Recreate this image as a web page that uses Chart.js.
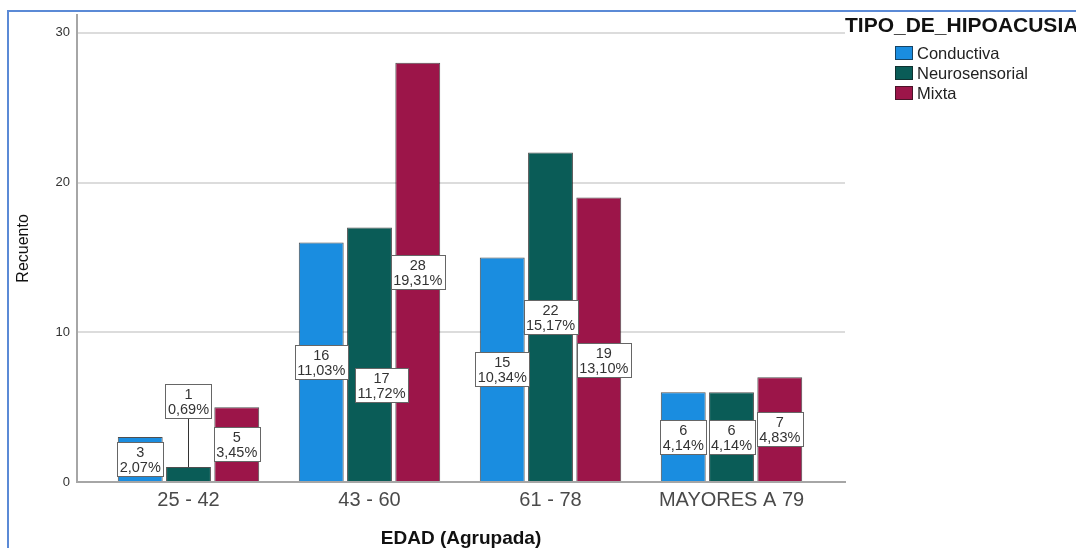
<!DOCTYPE html>
<html lang="es">
<head>
<meta charset="utf-8">
<title>Recuento por EDAD (Agrupada) y TIPO_DE_HIPOACUSIA</title>
<script src="https://cdn.jsdelivr.net/npm/chart.js@4.4.1/dist/chart.umd.min.js"></script>
<style>
  html, body { margin: 0; padding: 0; background: #fff; }
  #grafico { display: block; }
</style>
</head>
<body>
<canvas id="grafico" width="1076" height="548"></canvas>
<script>
// Recuento de hipoacusia por grupo de edad (barras agrupadas, estilo SPSS)

const EDADES = ["25 - 42", "43 - 60", "61 - 78", "MAYORES A 79"];
const TIPOS = ["Conductiva", "Neurosensorial", "Mixta"];
const CONDUCTIVA = [3, 16, 15, 6];
const NEUROSENSORIAL = [1, 17, 22, 6];
const MIXTA = [5, 28, 19, 7];
const Y_TICKS = [0, 10, 20, 30];

const COLORES = ["#1a8de0", "#0a5c57", "#9c1549"];
const FUENTE = "'Liberation Sans', Arial, sans-serif";

const series = [CONDUCTIVA, NEUROSENSORIAL, MIXTA];
const TOTAL = series.flat().reduce((a, b) => a + b, 0);

function pct(v) { return (v / TOTAL * 100).toFixed(2).replace(".", ",") + "%"; }

// etiquetas corridas a mano para que no se pisen con la vecina (dx, dy en px)
const AJUSTES = { "1-1": [12, 31], "2-2": [5, 21] };

// marco azul del visor
const marco = {
  id: "marco",
  beforeDraw(chart) {
    const ctx = chart.ctx;
    ctx.save();
    ctx.strokeStyle = "#5b8ad6";
    ctx.lineWidth = 2;
    ctx.beginPath();
    ctx.moveTo(8, chart.height);
    ctx.lineTo(8, 11);
    ctx.lineTo(chart.width, 11);
    ctx.stroke();
    ctx.restore();
  },
};

// caja con recuento y porcentaje sobre cada barra
const etiquetas = {
  id: "etiquetas",
  afterDatasetsDraw(chart) {
    const ctx = chart.ctx;
    ctx.save();
    ctx.font = "14.5px " + FUENTE;
    ctx.textAlign = "center";
    ctx.textBaseline = "middle";
    chart.data.datasets.forEach((ds, di) => {
      chart.getDatasetMeta(di).data.forEach((bar, i) => {
        const v = ds.data[i].y;
        const l1 = String(v), l2 = pct(v);
        const w = Math.round(Math.max(ctx.measureText(l1).width, ctx.measureText(l2).width) + 5);
        const h = 34;
        let cx = bar.x, cy = (bar.y + bar.base) / 2;
        let guia = false;
        if (bar.base - bar.y < h) { cy = bar.y - 49 - h / 2; guia = true; }
        const aj = AJUSTES[di + "-" + i];
        if (aj) { cx += aj[0]; cy += aj[1]; }
        const x0 = Math.round(cx - w / 2) + 0.5, y0 = Math.round(cy - h / 2) + 0.5;
        if (guia) {
          ctx.strokeStyle = "#333";
          ctx.lineWidth = 1;
          ctx.beginPath();
          ctx.moveTo(Math.round(cx) + 0.5, y0 + h);
          ctx.lineTo(Math.round(cx) + 0.5, bar.y);
          ctx.stroke();
        }
        ctx.fillStyle = "#fff";
        ctx.fillRect(x0, y0, w, h);
        ctx.strokeStyle = "#666";
        ctx.lineWidth = 1;
        ctx.strokeRect(x0, y0, w, h);
        ctx.fillStyle = "#333";
        ctx.fillText(l1, cx, y0 + h / 2 - 7);
        ctx.fillText(l2, cx, y0 + h / 2 + 8);
      });
    });
    ctx.restore();
  },
};

// leyenda a la derecha con título
const leyenda = {
  id: "leyenda",
  afterDraw(chart) {
    const ctx = chart.ctx;
    ctx.save();
    ctx.fillStyle = "#111";
    ctx.font = "bold 21px " + FUENTE;
    ctx.textBaseline = "alphabetic";
    ctx.fillText("TIPO_DE_HIPOACUSIA", 845, 32);
    ctx.font = "16.5px " + FUENTE;
    ctx.textBaseline = "middle";
    chart.data.datasets.forEach((ds, k) => {
      const yc = 53 + k * 20;
      ctx.fillStyle = ds.backgroundColor;
      ctx.fillRect(895, yc - 7, 18, 14);
      ctx.strokeStyle = "rgba(20,20,20,0.6)";
      ctx.lineWidth = 1;
      ctx.strokeRect(895.5, yc - 6.5, 17, 13);
      ctx.fillStyle = "#222";
      ctx.fillText(ds.label, 917, yc + 1);
    });
    ctx.restore();
  },
};

new Chart(document.getElementById("grafico"), {
  type: "bar",
  data: {
    datasets: TIPOS.map((t, k) => ({
      label: t,
      data: series[k].map((v, i) => ({ x: i, y: v })),
      backgroundColor: COLORES[k],
      borderColor: "rgba(20,20,20,0.75)",
      borderWidth: 1,
      categoryPercentage: 0.8,
      barPercentage: 0.93,
    })),
  },
  options: {
    responsive: false,
    animation: false,
    layout: { padding: { top: 12, right: 231, left: 0, bottom: 0 } },
    plugins: { legend: { display: false }, tooltip: { enabled: false } },
    scales: {
      x: {
        type: "linear",
        offset: false,
        min: -0.616,
        max: 3.627,
        grid: { display: false, offset: false, drawTicks: false },
        border: { color: "#a6a6a6", width: 2 },
        afterBuildTicks: (s) => { s.ticks = EDADES.map((_, i) => ({ value: i })); },
        afterFit: (s) => { s.height = 66; },
        ticks: {
          autoSkip: false, maxRotation: 0, padding: 6, color: "#4a4a4a",
          font: { family: FUENTE, size: 20 },
          callback: (v) => EDADES[v] ?? "",
        },
        title: {
          display: true, text: "EDAD (Agrupada)", color: "#111", padding: 0,
          font: { family: FUENTE, size: 19, weight: "bold", lineHeight: 1 },
        },
      },
      y: {
        min: 0,
        max: 31.2,
        afterBuildTicks: (s) => { s.ticks = Y_TICKS.map((v) => ({ value: v })); },
        afterFit: (s) => { s.width = 77; },
        grid: { color: "#dcdcdc", lineWidth: 2, drawTicks: false },
        border: { color: "#a6a6a6", width: 2 },
        ticks: { padding: 7, color: "#333", font: { family: FUENTE, size: 13 } },
        title: {
          display: true, text: "Recuento", color: "#111", padding: { top: 16, bottom: 0 },
          font: { family: FUENTE, size: 16, lineHeight: 1 },
        },
      },
    },
  },
  plugins: [marco, etiquetas, leyenda],
});
</script>
</body>
</html>
